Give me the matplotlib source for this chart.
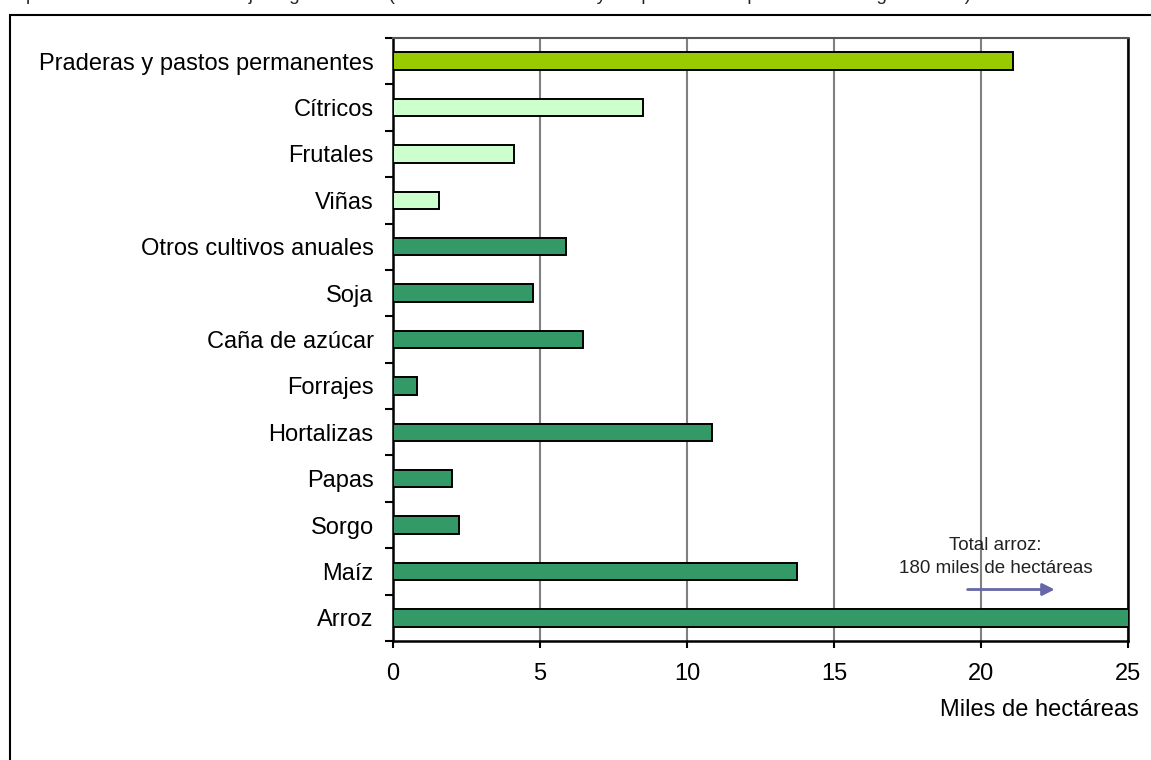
import matplotlib
matplotlib.use("Agg")
import matplotlib.pyplot as plt
from matplotlib.patches import Rectangle
import numpy as np

plt.rcParams['font.family'] = ['Liberation Sans', 'DejaVu Sans']

# datos (miles de hectáreas), de arriba hacia abajo
cultivos = ["Praderas y pastos permanentes", "Cítricos", "Frutales", "Viñas",
            "Otros cultivos anuales", "Soja", "Caña de azúcar", "Forrajes",
            "Hortalizas", "Papas", "Sorgo", "Maíz", "Arroz"]
superficie = [21.1, 8.5, 4.1, 1.55, 5.9, 4.75, 6.45, 0.83, 10.85, 2.0, 2.25, 13.75, 180]
grupo = ["praderas", "frutales", "frutales", "frutales", "anuales", "anuales",
         "anuales", "anuales", "anuales", "anuales", "anuales", "anuales", "anuales"]
colores = {"praderas": "#99cc00", "frutales": "#ccffcc", "anuales": "#339966"}

W, H = 1151, 760
fig = plt.figure(figsize=(W / 100, H / 100), dpi=100)

# titulo (cortado en el original)
fig.text(3 / W, 1 + 4 / H, "Superficie total cosechada bajo riego en 2000 (incluida la de cultivos cuya superficie está parcialmente regada: 11%)",
         fontsize=13.5, ha='left', va='center', color='#222222')

# marco exterior
fig.patches.append(Rectangle((10 / W, -0.05), 1.2, 1 - 15 / H + 0.05, transform=fig.transFigure,
                             fill=False, edgecolor='black', linewidth=1.5))

ax = fig.add_axes([393 / W, 1 - 641 / H, (1128 - 393) / W, (641 - 38) / H])

y = np.arange(len(cultivos))
ax.barh(y, superficie, height=0.375, color=[colores[g] for g in grupo],
        edgecolor='black', linewidth=1.4, zorder=3)

ax.set_xlim(0, 25)
ax.set_ylim(len(cultivos) - 0.5, -0.5)
ax.set_xticks(np.arange(0, 26, 5))
ax.set_yticks(y)
ax.set_yticklabels(cultivos)
ax.set_yticks(np.arange(-0.5, len(cultivos), 1), minor=True)
ax.tick_params(axis='y', which='major', length=0, pad=14, labelsize=17)
ax.tick_params(axis='y', which='minor', length=6, width=1.5, direction='out')
ax.tick_params(axis='x', length=5, width=1.5, pad=11, labelsize=17)

ax.xaxis.grid(True, color='#808080', linewidth=1.5, zorder=0)
ax.set_axisbelow(True)
for s in ['left', 'bottom', 'right']:
    ax.spines[s].set_linewidth(1.8)
    ax.spines[s].set_color('black')
ax.spines['top'].set_color('#555555')
ax.spines['top'].set_linewidth(1.5)

fig.text(1139 / W, 1 - 716 / H, "Miles de hectáreas", fontsize=17, ha='right', va='baseline')

# nota sobre el arroz
ax.text(20.5, 10.69, "Total arroz:\n180 miles de hectáreas", fontsize=13.5, ha='center', va='center',
        linespacing=1.4, color='#222222')
ax.annotate("", xy=(22.6, 11.39), xytext=(19.45, 11.39),
            arrowprops=dict(arrowstyle='-|>', color='#6666a8', lw=2, mutation_scale=18))

fig.savefig("out.png", dpi=100)
